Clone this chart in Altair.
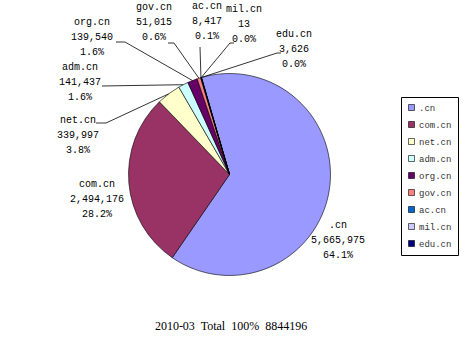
import math
import altair as alt
import pandas as pd

# ---- data ----
names = [".cn", "com.cn", "net.cn", "adm.cn", "org.cn", "gov.cn", "ac.cn", "mil.cn", "edu.cn"]
counts = [5665975, 2494176, 339997, 141437, 139540, 51015, 8417, 13, 3626]
colors = ["#9999FF", "#993366", "#FFFFCC", "#CCFFFF", "#660066", "#FF8080", "#0066CC", "#CCCCFF", "#000080"]
title_text = "2010-03\u00a0 Total\u00a0 100%\u00a0 8844196"

# ---- layout (pixels) ----
CX, CY, R = 229.5, 174.5, 101
START_DEG = -16.1
# position of the first line of each label
label_pos = {
    ".cn": (338, 225), "com.cn": (97, 184), "net.cn": (78, 120), "adm.cn": (80, 67),
    "org.cn": (92, 22), "gov.cn": (154, 7), "ac.cn": (207, 6), "mil.cn": (244, 9),
    "edu.cn": (294, 34),
}
leader_stub = {
    "net.cn": [(96, 123), (106, 123)],
    "adm.cn": [(102, 86)],
    "org.cn": [(116, 42), (125, 42)],
    "gov.cn": [(168, 43), (174, 43)],
    "ac.cn": [(200, 47)],
    "mil.cn": [(234, 43), (230, 43)],
    "edu.cn": [(281, 53), (277, 53)],
}

total = sum(counts)
pcts = [f"{c / total * 100:.1f}%" for c in counts]

pie_df = pd.DataFrame({"name": names, "count": counts, "idx": list(range(len(names)))})

s = math.radians(START_DEG) + 2 * math.pi
pie = alt.Chart(pie_df).mark_arc(outerRadius=R, stroke="black", strokeWidth=0.6).encode(
    theta=alt.Theta("count:Q", stack=True, scale=alt.Scale(range=[s, s + 2 * math.pi])),
    color=alt.Color(
        "name:N", sort=names, scale=alt.Scale(domain=names, range=colors),
        legend=alt.Legend(
            title=None, orient="none", legendX=401, legendY=97, symbolType="square",
            symbolSize=36, symbolStrokeColor="black", symbolStrokeWidth=0.6,
            strokeColor="black", padding=6, rowPadding=7, labelFont="Liberation Mono",
            labelFontSize=9, labelColor="#333333", labelOffset=3, fillColor="white",
        ),
    ),
    order=alt.Order("idx:Q"),
    x=alt.value(CX),
    y=alt.value(CY),
)

# labels
lab_rows = []
for n, c, p in zip(names, counts, pcts):
    lx, ly = label_pos[n]
    lab_rows.append({"name": n, "lx": lx, "ly": ly, "txt": f"{n}\n{c:,}\n{p}"})
lab_df = pd.DataFrame(lab_rows)
labels = alt.Chart(lab_df).mark_text(
    font="Liberation Mono", fontSize=10, lineBreak="\n", lineHeight=15,
    align="center", baseline="middle", color="black",
).encode(
    x=alt.X("lx:Q", scale=None, axis=None),
    y=alt.Y("ly:Q", scale=None, axis=None),
    text="txt:N",
)

# leader lines: stub -> slice edge midpoint (computed from the data)
cum = 0
ld_rows = []
for n, c in zip(names, counts):
    mid = cum + c / 2
    cum += c
    if n not in leader_stub:
        continue
    ang = math.radians(START_DEG) + 2 * math.pi * mid / total
    ex = CX + R * math.sin(ang)
    ey = CY - R * math.cos(ang)
    pts = leader_stub[n] + [(ex, ey)]
    for k, (px, py) in enumerate(pts):
        ld_rows.append({"name": n, "k": k, "px": px, "py": py})
ld_df = pd.DataFrame(ld_rows)
leaders = alt.Chart(ld_df).mark_line(color="black", strokeWidth=0.8).encode(
    x=alt.X("px:Q", scale=None, axis=None),
    y=alt.Y("py:Q", scale=None, axis=None),
    detail="name:N",
    order="k:Q",
)

title = alt.Chart(pd.DataFrame({"t": [title_text]})).mark_text(
    font="Liberation Serif", fontSize=12, align="center", baseline="middle", color="black"
).encode(x=alt.value(231), y=alt.value(326), text="t:N")

chart = alt.layer(pie, leaders, labels, title).properties(
    width=472, height=353, padding=0, autosize=alt.AutoSizeParams(type="none")
).configure_view(stroke=None).resolve_scale(x="independent", y="independent")

chart.save("out.html", embed_options={"renderer": "svg", "actions": False})
